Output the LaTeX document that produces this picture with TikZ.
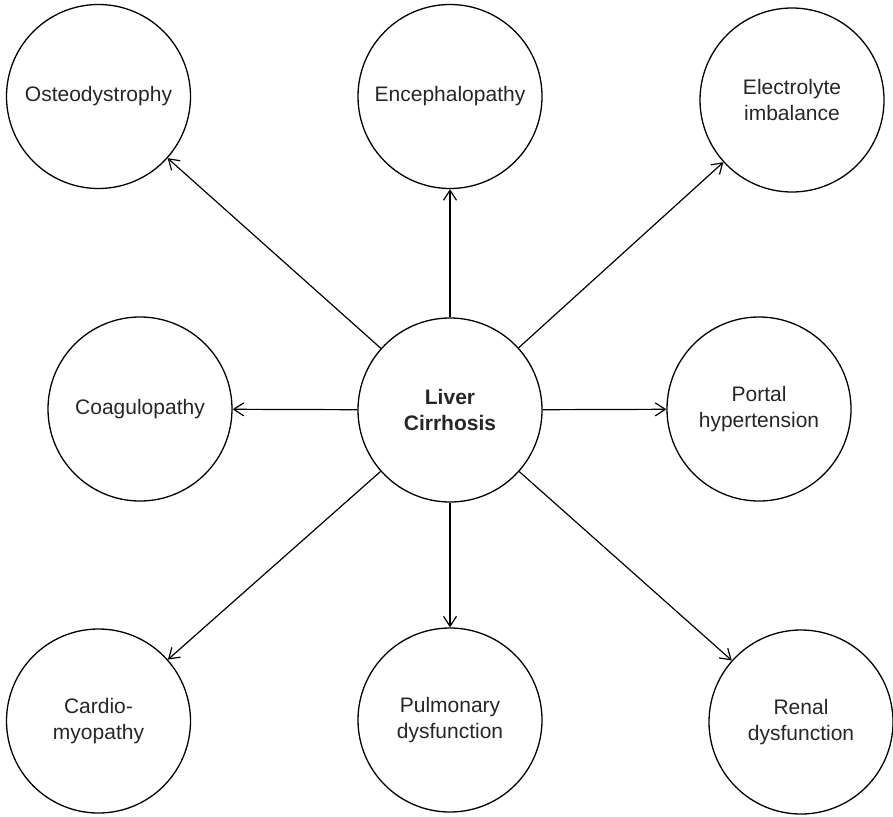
\documentclass[tikz,border=0pt]{standalone}
\usepackage{fontspec}
\setmainfont{Liberation Sans}
\usetikzlibrary{arrows.meta}
\begin{document}
\begin{tikzpicture}[x=1pt,y=-1pt,
  disease/.style={circle,draw=black,line width=1.3pt,minimum size=184pt,inner sep=0pt,
    align=center,text=black!85,font=\fontsize{21}{26}\selectfont},
  hub/.style={disease,font=\fontsize{21}{26}\selectfont\bfseries},
  link/.style={line width=1.2pt,-{Straight Barb[length=10pt,width=13pt,line width=1.2pt]}}]
\useasboundingbox (0,0) rectangle (893,816);
\node[hub] (liver) at (450,410) {Liver\\Cirrhosis};
\node[disease] (osteo) at (98.5,96.5) {Osteodystrophy};
\node[disease] (ence) at (450,96.5) {Encephalopathy};
\node[disease] (elec) at (792,100) {Electrolyte\\imbalance};
\node[disease] (coag) at (140,409) {Coagulopathy};
\node[disease] (portal) at (759,409) {Portal\\hypertension};
\node[disease] (cardio) at (98.5,721) {Cardio-\\myopathy};
\node[disease] (pulm) at (450,720) {Pulmonary\\dysfunction};
\node[disease] (renal) at (801,722) {Renal\\dysfunction};
\foreach \t in {osteo,ence,elec,coag,portal,cardio,pulm,renal}
  \draw[link] (liver) -- (\t);
\end{tikzpicture}
\end{document}
